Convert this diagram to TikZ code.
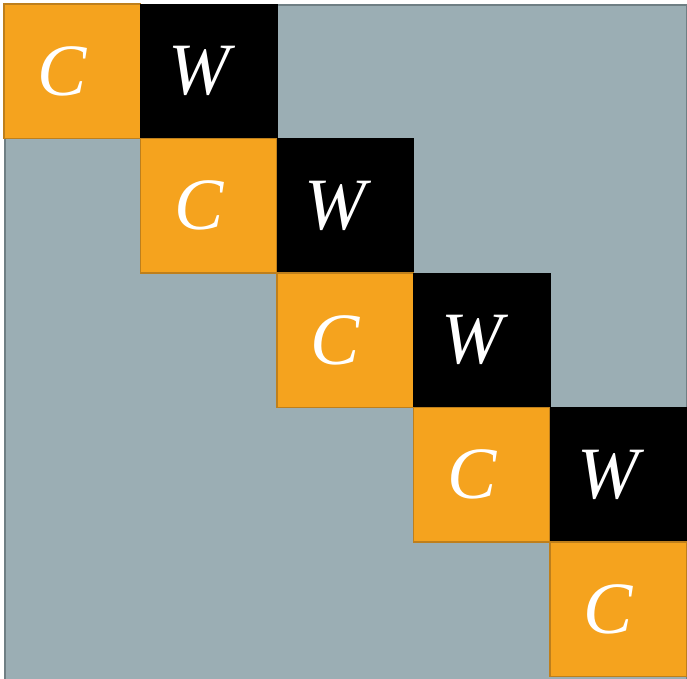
\documentclass[tikz,border=0pt]{standalone}
\usepackage{fontspec}
\setmainfont{Liberation Serif}
\usepackage{xcolor}
\usetikzlibrary{positioning}
\definecolor{blockorange}{HTML}{F5A31E}
\definecolor{blockedge}{HTML}{BE7F1C}
\definecolor{matgray}{HTML}{9BAEB4}
\definecolor{matedge}{HTML}{6F7F84}
\tikzstyle{cblock} = [rectangle, minimum width=2.73cm, minimum height=2.69cm, inner sep=0pt, outer sep=0pt, draw=blockedge, line width=0.9pt, fill=blockorange, text=white, font=\fontsize{42}{42}\selectfont\itshape]
\tikzstyle{wblock} = [rectangle, minimum width=2.73cm, minimum height=2.69cm, inner sep=0pt, outer sep=0pt, draw=black, fill=black, text=white, font=\fontsize{42}{42}\selectfont\itshape]

\begin{document}
\begin{tikzpicture}
\useasboundingbox (0,0) rectangle (13.74,-13.56);

% gray matrix behind the blocks
\node (mat) [rectangle, draw=matedge, line width=1pt, fill=matgray, inner sep=0pt, minimum width=13.64cm, minimum height=13.5cm, anchor=north west] at (0.08,-0.08) {};

\node (c1) [cblock, anchor=north west] at (0.08,-0.08) {\kern-0.4cm C};
\node (w1) [wblock, right=0pt of c1] {\kern-0.4cm W};
\node (c2) [cblock, below=0pt of w1] {\kern-0.4cm C};
\node (w2) [wblock, right=0pt of c2] {\kern-0.4cm W};
\node (c3) [cblock, below=0pt of w2] {\kern-0.4cm C};
\node (w3) [wblock, right=0pt of c3] {\kern-0.4cm W};
\node (c4) [cblock, below=0pt of w3] {\kern-0.4cm C};
\node (w4) [wblock, right=0pt of c4] {\kern-0.4cm W};
\node (c5) [cblock, below=0pt of w4] {\kern-0.4cm C};

\end{tikzpicture}
\end{document}
